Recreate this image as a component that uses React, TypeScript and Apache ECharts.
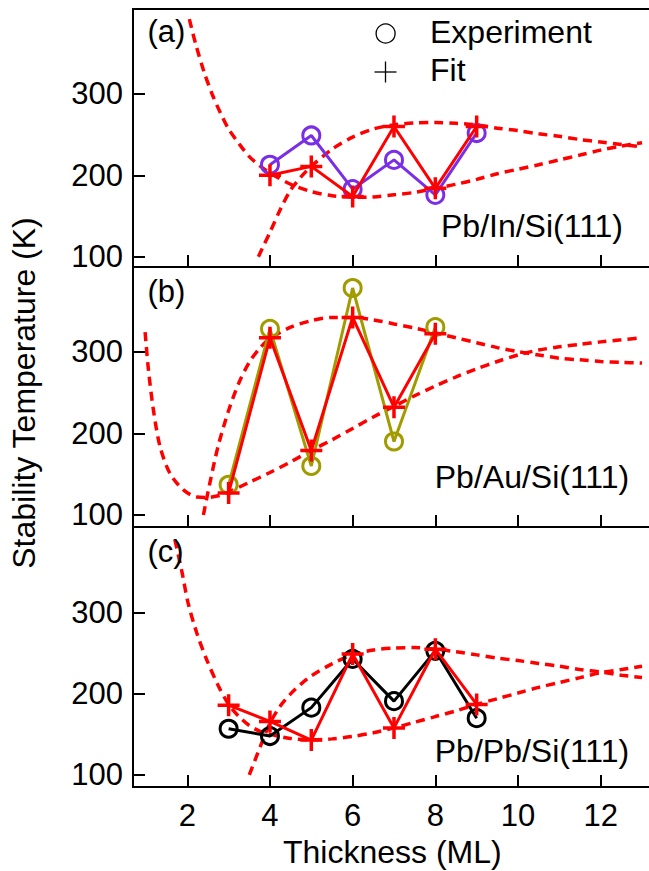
import React, { useEffect, useRef } from "react";
import * as echarts from "echarts";

const FONT = "'Liberation Sans', Arial, Helvetica, sans-serif";

const xTicks = [2, 4, 6, 8, 10, 12];
const yTicks = [100, 200, 300];

// Panel (a) Pb/In/Si(111)
const xA = [4, 5, 6, 7, 8, 9];
const expA = [213, 249, 183, 219, 176, 252];
const fitA = [200, 211, 174, 260, 184, 260];
const lowA: [number, number][] = [
  [2.05, 392], [2.2, 362], [2.4, 328], [2.6, 300], [2.8, 277], [3.0, 257], [3.25, 239],
  [3.5, 223], [3.75, 212], [4.0, 203], [4.5, 189], [5.0, 180], [5.5, 175], [6.0, 173],
  [6.5, 173.5], [7.0, 176], [7.5, 179], [8.0, 184], [8.5, 189], [9.0, 195], [9.5, 202],
  [10.0, 207.5], [10.5, 213], [11.0, 219], [11.5, 225], [12.0, 231], [12.5, 236], [13.0, 240],
];
const upA: [number, number][] = [
  [3.72, 100], [4.0, 130], [4.25, 158], [4.5, 182], [4.75, 198], [5.0, 211], [5.5, 232],
  [6.0, 247], [6.5, 257], [7.0, 262], [7.5, 264.5], [8.0, 265], [8.5, 264], [9.0, 262],
  [9.5, 258], [10.0, 255], [10.5, 251], [11.0, 248], [11.5, 244], [12.0, 241], [12.5, 238],
  [13.0, 235],
];

// Panel (b) Pb/Au/Si(111)
const xB = [3, 4, 5, 6, 7, 8];
const expB = [137, 328, 160, 378, 190, 330];
const fitB = [127, 317, 179, 342, 232, 322];
const lowB: [number, number][] = [
  [0.98, 324], [1.06, 278], [1.18, 229], [1.34, 184], [1.58, 151], [1.9, 131], [2.23, 122],
  [2.47, 121.5], [2.75, 123.5], [3.0, 128], [3.5, 140], [4.0, 152], [4.5, 165], [5.0, 179],
  [5.5, 192], [6.0, 206], [6.5, 220], [7.0, 233], [7.5, 246], [8.0, 258], [8.5, 269],
  [9.0, 279], [9.5, 288], [10.0, 296], [10.5, 302], [11.0, 306], [11.5, 309], [12.0, 312],
  [12.5, 314.5], [13.0, 317],
];
const upB: [number, number][] = [
  [2.39, 100], [2.55, 140], [2.75, 185], [3.0, 228], [3.25, 262], [3.5, 287], [3.75, 304],
  [4.0, 316], [4.5, 330], [5.0, 338], [5.5, 342], [6.0, 342], [6.5, 339], [7.0, 334],
  [7.5, 329], [8.0, 323], [8.5, 317], [9.0, 311], [9.5, 305], [10.0, 300], [10.5, 296],
  [11.0, 292], [11.5, 290], [12.0, 288], [12.5, 287], [13.0, 286],
];

// Panel (c) Pb/Pb/Si(111)
const xC = [3, 4, 5, 6, 7, 8, 9];
const expC = [157, 148, 183, 243, 191, 253, 170];
const fitC = [186, 166, 143, 249, 158, 255, 187];
const lowC: [number, number][] = [
  [1.7, 390], [1.86, 353], [2.02, 312], [2.23, 275], [2.47, 242], [2.75, 210], [3.0, 187],
  [3.25, 172], [3.5, 161], [3.75, 154], [4.0, 150], [4.5, 145], [5.0, 143.5], [5.5, 144.5],
  [6.0, 147.5], [6.5, 152], [7.0, 158], [7.5, 165], [8.0, 172], [8.5, 179], [9.0, 187],
  [9.5, 194], [10.0, 201], [10.5, 208], [11.0, 214], [11.5, 220], [12.0, 226], [12.5, 230],
  [13.0, 234],
];
const upC: [number, number][] = [
  [3.5, 100], [3.75, 133], [4.0, 164], [4.25, 185], [4.5, 200], [4.75, 212], [5.0, 222],
  [5.5, 237], [6.0, 248], [6.5, 254], [7.0, 256.5], [7.5, 257], [8.0, 255], [8.5, 252],
  [9.0, 248], [9.5, 244], [10.0, 241], [10.5, 237.5], [11.0, 234], [11.5, 230], [12.0, 227],
  [12.5, 223], [13.0, 220],
];

const panelLabels = ["(a)", "(b)", "(c)"];
const systemLabels = ["Pb/In/Si(111)", "Pb/Au/Si(111)", "Pb/Pb/Si(111)"];
const expColors = ["#7a2ee6", "#a09c00", "#000000"];

const PLUS = "path://M0,10L20,10M10,0L10,20";

export default function App() {
  const ref = useRef<HTMLDivElement>(null);

  useEffect(() => {
    if (!ref.current) return;
    const chart = echarts.init(ref.current, undefined, { renderer: "svg" });

    const tops = [9, 267, 527];
    const heights = [258, 260, 260];
    const yRanges = [
      [87.3, 404.5],
      [85.3, 403.7],
      [85.2, 405.6],
    ];
    const xs = [xA, xB, xC];
    const exps = [expA, expB, expC];
    const fits = [fitA, fitB, fitC];
    const lows = [lowA, lowB, lowC];
    const ups = [upA, upB, upC];

    const grid = tops.map((t, i) => ({
      left: 133,
      top: t,
      width: 540,
      height: heights[i],
      show: true,
      borderColor: "#000",
      borderWidth: 2,
      backgroundColor: "transparent",
    }));

    const xAxis = tops.map((_, i) => ({
      type: "value",
      gridIndex: i,
      min: 0.687,
      max: 13.749,
      axisLine: { show: false },
      splitLine: { show: false },
      axisTick: {
        show: true,
        inside: true,
        length: 12,
        customValues: xTicks,
        lineStyle: { color: "#000", width: 2 },
      },
      axisLabel: {
        show: i === 2,
        customValues: xTicks,
        fontSize: 31,
        fontFamily: FONT,
        color: "#000",
        margin: 13,
      },
    }));

    const yAxis = tops.map((_, i) => ({
      type: "value",
      gridIndex: i,
      min: yRanges[i][0],
      max: yRanges[i][1],
      axisLine: { show: false },
      splitLine: { show: false },
      axisTick: {
        show: true,
        inside: true,
        length: 12,
        customValues: yTicks,
        lineStyle: { color: "#000", width: 2 },
      },
      axisLabel: {
        show: true,
        customValues: yTicks,
        fontSize: 31,
        fontFamily: FONT,
        color: "#000",
        margin: 10,
      },
    }));

    const series: any[] = [];
    for (let i = 0; i < 3; i++) {
      [lows[i], ups[i]].forEach((d) => {
        series.push({
          type: "line",
          xAxisIndex: i,
          yAxisIndex: i,
          data: d,
          symbol: "none",
          smooth: 0.3,
          silent: true,
          z: 2,
          lineStyle: { color: "#ff0000", width: 3.5, type: [9, 6] },
        });
      });
      series.push({
        type: "line",
        xAxisIndex: i,
        yAxisIndex: i,
        data: xs[i].map((x, j) => [x, exps[i][j]]),
        symbol: "circle",
        symbolSize: 17,
        z: 3,
        itemStyle: { color: "transparent", borderColor: expColors[i], borderWidth: 3 },
        lineStyle: { color: expColors[i], width: 3 },
      });
      series.push({
        type: "line",
        xAxisIndex: i,
        yAxisIndex: i,
        data: xs[i].map((x, j) => [x, fits[i][j]]),
        symbol: PLUS,
        symbolSize: 22,
        z: 4,
        itemStyle: { color: "transparent", borderColor: "#ff0000", borderWidth: 3.5 },
        lineStyle: { color: "#ff0000", width: 3 },
      });
    }

    const txt = (
      text: string,
      x: number,
      y: number,
      size: number,
      align: string,
      rotation = 0
    ) => ({
      type: "text",
      x,
      y,
      rotation,
      z: 10,
      style: {
        text,
        fontSize: size,
        fontFamily: FONT,
        fill: "#000",
        align,
        verticalAlign: "middle",
        textAlign: align,
        textVerticalAlign: "middle",
      },
    });

    const labelBaselines = [42, 302, 562];
    const sysBaselines = [237.3, 487.7, 761.7];

    const graphic: any[] = [];
    for (let i = 0; i < 3; i++) {
      graphic.push(txt(panelLabels[i], 147.5, labelBaselines[i] - 0.35 * 31, 31, "left"));
      graphic.push(txt(systemLabels[i], 532, sysBaselines[i] - 0.35 * 32, 32, "center"));
    }
    graphic.push(txt("Experiment", 430, 43.3 - 0.35 * 32, 32, "left"));
    graphic.push(txt("Fit", 430, 81 - 0.35 * 32, 32, "left"));
    graphic.push(txt("Thickness (ML)", 392.3, 863 - 0.35 * 32, 32, "center"));
    graphic.push(txt("Stability Temperature (K)", 35 - 0.35 * 32, 393, 32, "center", Math.PI / 2));
    graphic.push({
      type: "circle",
      z: 10,
      shape: { cx: 385.6, cy: 33.5, r: 9.5 },
      style: { fill: "none", stroke: "#000", lineWidth: 1.3 },
    });
    graphic.push({
      type: "line",
      z: 10,
      shape: { x1: 374.5, y1: 72, x2: 396.5, y2: 72 },
      style: { stroke: "#000", lineWidth: 1.3 },
    });
    graphic.push({
      type: "line",
      z: 10,
      shape: { x1: 385.5, y1: 61.5, x2: 385.5, y2: 82.5 },
      style: { stroke: "#000", lineWidth: 1.3 },
    });

    chart.setOption({
      animation: false,
      backgroundColor: "#ffffff",
      grid,
      xAxis,
      yAxis,
      series,
      graphic,
    });

    return () => chart.dispose();
  }, []);

  return (
    <div
      style={{
        position: "fixed",
        left: 0,
        top: 0,
        width: 649,
        height: 871,
        overflow: "hidden",
        background: "#fff",
      }}
    >
      <div ref={ref} style={{ width: 690, height: 871 }} />
    </div>
  );
}
